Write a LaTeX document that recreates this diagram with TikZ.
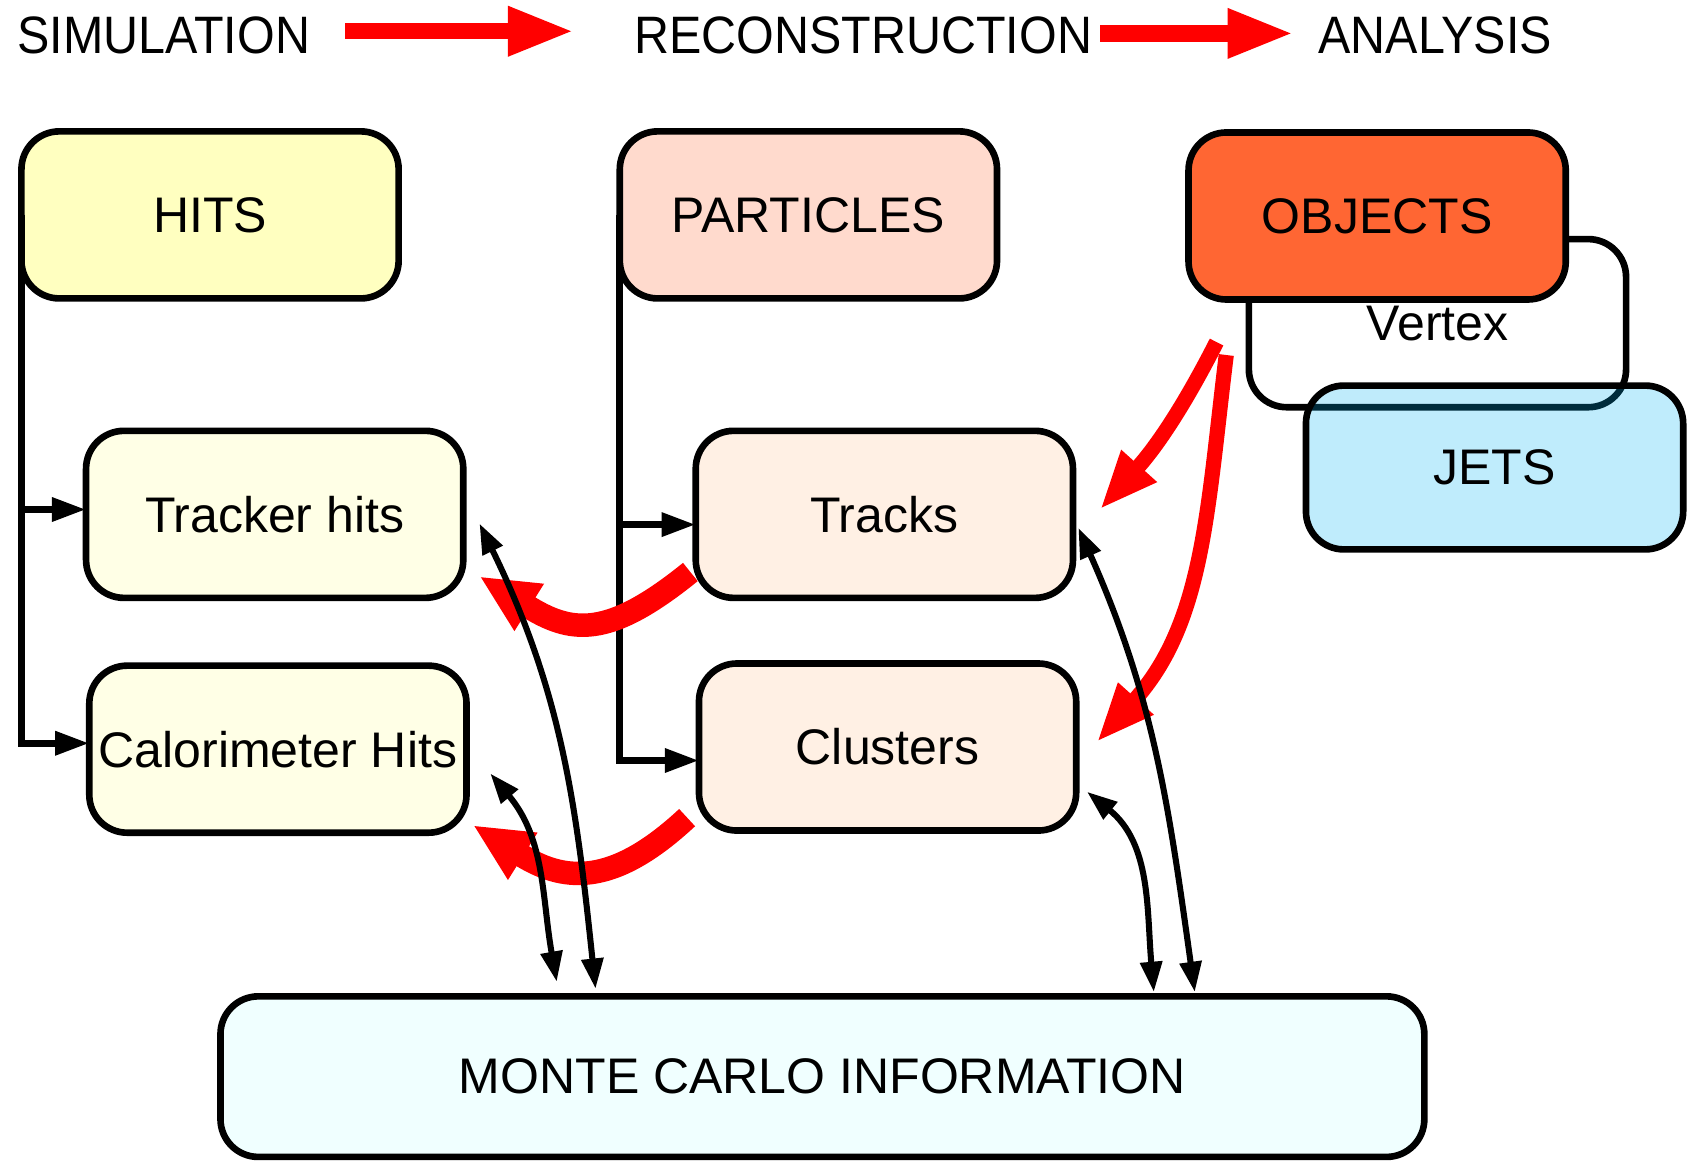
\documentclass[tikz,border=0pt]{standalone}
\usepackage{fontspec}
\setmainfont{Liberation Sans}
\newfontfamily\titlefont[FakeStretch=0.92]{Liberation Sans}
\usetikzlibrary{arrows.meta}

\definecolor{hitsfill}{RGB}{255,255,192}
\definecolor{subhitsfill}{RGB}{255,255,230}
\definecolor{partfill}{RGB}{255,218,205}
\definecolor{subpartfill}{RGB}{255,240,228}
\definecolor{objfill}{RGB}{255,102,51}
\definecolor{jetsfill}{RGB}{0,179,243}
\definecolor{mcfill}{RGB}{240,255,255}

\newcommand{\boxfont}{\fontsize{13.2}{15}\selectfont}
\newcommand{\headfont}{\titlefont\fontsize{13.9}{16}\selectfont}

\begin{document}
\begin{tikzpicture}[x=0.01cm,y=-0.01cm,
    box/.style={draw,rounded corners=10pt,line width=1.75pt,minimum width=3.5cm,minimum height=1.55cm,inner sep=2pt,outer sep=0pt,font=\boxfont},
    title/.style={inner sep=0pt,font=\headfont},
    flow/.style={red,line width=4.3pt,-{Triangle[length=17.6pt,width=12pt]}},
    bracket/.style={line width=1.85pt,-{Triangle[length=9pt,width=6pt]}},
    link/.style={line width=1.6pt,{Triangle[length=8pt,width=5.6pt]}-{Triangle[length=8pt,width=5.6pt]}},
    red arrow/.style={red,line width=6.2pt,-{Triangle[length=15.5pt,width=13.5pt]}},
    thin red arrow/.style={red,line width=4pt,-{Triangle[length=15.5pt,width=11.5pt]}}]

    \useasboundingbox (0,0) rectangle (1568,1078);

    \node[title] (sim) at (152,33) {SIMULATION};
    \node[title] (reco) at (801.5,33) {RECONSTRUCTION};
    \node[title] (ana) at (1332.5,33) {ANALYSIS};

    \draw[flow] ([shift={(0.32cm,0.04cm)}]sim.east) -- ([shift={(-0.55cm,0.04cm)}]reco.west);
    \draw[flow] ([shift={(0.07cm,0.02cm)}]reco.east) -- ([shift={(-0.22cm,0.02cm)}]ana.west);

    \node[box,fill=hitsfill] (hits) at (195,199.5) {HITS};
    \node[box,fill=subhitsfill] (tracker) at (255,477.5) {Tracker hits};
    \node[box,fill=subhitsfill] (calo) at (258,695.5) {Calorimeter Hits};

    \node[box,fill=partfill] (particles) at (750.5,199.5) {PARTICLES};
    \node[box,fill=subpartfill] (tracks) at (821,477.5) {Tracks};
    \node[box,fill=subpartfill] (clusters) at (824,693.5) {Clusters};

    \node[box,fill=white,minimum height=1.56cm] (vertex) at (1334.5,300) {Vertex};
    \node[box,fill=objfill] (objects) at (1278.5,200.5) {OBJECTS};
    \node[box,fill=jetsfill,fill opacity=0.25,text opacity=1,minimum height=1.52cm] (jets) at (1387.5,434) {JETS};

    \node[box,fill=mcfill,minimum width=11.17cm,minimum height=1.49cm] (mc) at (763.5,999.5) {MONTE CARLO INFORMATION};

    % tree lines
    \draw[bracket] (hits.west) |- ([yshift=0.055cm]calo.west);
    \draw[bracket] (hits.west) |- ([yshift=0.045cm]tracker.west);
    \draw[bracket] (particles.west) |- ([yshift=-0.125cm]clusters.west);
    \draw[bracket] (particles.west) |- ([yshift=-0.095cm]tracks.west);

    % red back arrows
    \draw[red arrow] ([shift={(-0.05cm,0.24cm)}]tracks.south west) to[out=219,in=-32,looseness=1.3] ([shift={(0.15cm,0.2cm)}]tracker.south east);
    \draw[red arrow] ([shift={(-0.11cm,0.12cm)}]clusters.south west) to[out=223,in=-32,looseness=1.25] ([shift={(0.06cm,0.07cm)}]calo.south east);
    \draw[thin red arrow] ([shift={(0.26cm,-0.395cm)}]objects.south west) to[out=243,in=48] ([shift={(0.25cm,0.045cm)}]tracks.east);
    \draw[thin red arrow] ([shift={(0.35cm,-0.515cm)}]objects.south west) to[out=263,in=48] ([shift={(0.19cm,0.045cm)}]clusters.east);

    % links to the MC truth
    \draw[link] ([shift={(0.15cm,-0.085cm)}]tracker.east) to[out=-64,in=96] ([shift={(3.48cm,0.07cm)}]mc.north west);
    \draw[link] ([shift={(0.22cm,-0.225cm)}]calo.east) to[out=-50,in=100] ([shift={(3.12cm,0.135cm)}]mc.north west);
    \draw[link] ([shift={(0.05cm,-0.125cm)}]tracks.east) to[out=-66,in=98] ([shift={(9.04cm,0.04cm)}]mc.north west);
    \draw[link] ([shift={(0.1cm,-0.415cm)}]clusters.east) to[out=-39,in=95] ([shift={(8.66cm,0.04cm)}]mc.north west);

\end{tikzpicture}
\end{document}
